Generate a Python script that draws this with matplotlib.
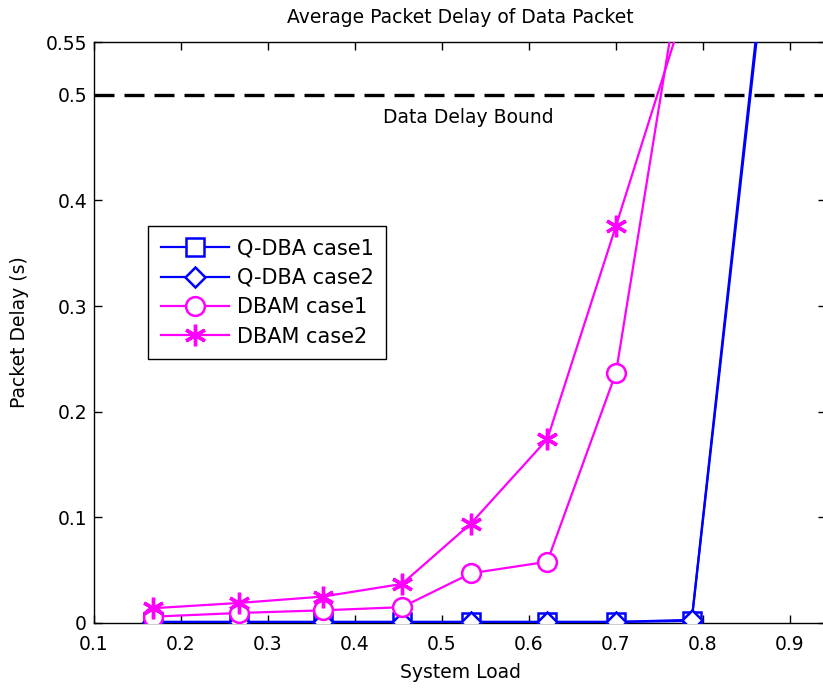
import matplotlib
matplotlib.use("Agg")
import matplotlib.pyplot as plt

# System load values at which the delay was measured
load = [0.168, 0.267, 0.363, 0.454, 0.533, 0.621, 0.700, 0.787, 0.875]

# Average packet delay (s) for each scheme
qdba_case1 = [0.001, 0.001, 0.001, 0.001, 0.001, 0.001, 0.001, 0.002, 0.650]
qdba_case2 = [0.001, 0.001, 0.001, 0.001, 0.001, 0.001, 0.001, 0.003, 0.660]
dbam_case1 = [0.006, 0.0095, 0.012, 0.015, 0.047, 0.058, 0.237, 0.680]
dbam_case2 = [0.014, 0.019, 0.025, 0.037, 0.094, 0.174, 0.376, 0.603]

delay_bound = 0.5
x_ticks = [0.1, 0.2, 0.3, 0.4, 0.5, 0.6, 0.7, 0.8, 0.9]
y_ticks = [0, 0.1, 0.2, 0.3, 0.4, 0.5, 0.55]
y_tick_labels = ["0", "0.1", "0.2", "0.3", "0.4", "0.5", "0.55"]

plt.rcParams["font.family"] = ["DejaVu Sans"]
FS = 13.5
LEG_FS = 15

fig = plt.figure(figsize=(8.23, 6.88), dpi=100)
W, H = 823, 688
left, right, top, bottom = 94, 826, 42, 623
ax = fig.add_axes([left / W, (H - bottom) / H, (right - left) / W, (bottom - top) / H])

blue = (0, 0, 1)
mag = (1, 0, 1)
lw = 1.6
ms = 13.5
mew = 1.8

ax.plot(load, qdba_case1, color=blue, lw=lw, marker="s", ms=ms - 1, mfc="w",
        mec=blue, mew=mew, label="Q-DBA case1", zorder=3)
ax.plot(load, qdba_case2, color=blue, lw=lw, marker="D", ms=ms - 3, mfc="w",
        mec=blue, mew=mew, label="Q-DBA case2", zorder=3)
ax.plot(load[:len(dbam_case1)], dbam_case1, color=mag, lw=lw, marker="o", ms=ms,
        mfc="w", mec=mag, mew=mew, label="DBAM case1", zorder=3)
ax.plot(load[:len(dbam_case2)], dbam_case2, color=mag, lw=lw, marker=(6, 2, 0),
        ms=ms + 2, mec=mag, mew=mew + 0.6, label="DBAM case2", zorder=3)

ax.axhline(delay_bound, color="black", lw=2.4, dashes=(6, 3), zorder=2)
ax.text(0.530, 0.479, "Data Delay Bound", ha="center", va="center", fontsize=FS)

ax.set_xlim(0.1, 0.1 + (right - left) / 870.0)
ax.set_ylim(0, 0.55)
ax.set_xticks(x_ticks)
ax.set_xticklabels([f"{t:g}" for t in x_ticks])
ax.set_yticks(y_ticks)
ax.set_yticklabels(y_tick_labels)
ax.tick_params(direction="in", length=6, width=1, labelsize=FS,
               top=True, right=True)
ax.tick_params(axis="x", pad=9)
ax.tick_params(axis="y", pad=5)
for s in ax.spines.values():
    s.set_linewidth(1.0)

ax.set_title("Average Packet Delay of Data Packet", fontsize=FS, pad=14)
ax.set_xlabel("System Load", fontsize=FS, labelpad=6)
ax.set_ylabel("Packet Delay (s)", fontsize=FS, labelpad=12)

leg = ax.legend(loc="upper left",
                bbox_to_anchor=((148 - left) / (right - left), (bottom - 226) / (bottom - top)),
                fontsize=LEG_FS, frameon=True, fancybox=False, framealpha=1,
                edgecolor="black", handlelength=3.3, handletextpad=0.35,
                labelspacing=0.45, borderpad=0.6, borderaxespad=0)
leg.get_frame().set_linewidth(1.0)

fig.savefig("out.png", dpi=100)
